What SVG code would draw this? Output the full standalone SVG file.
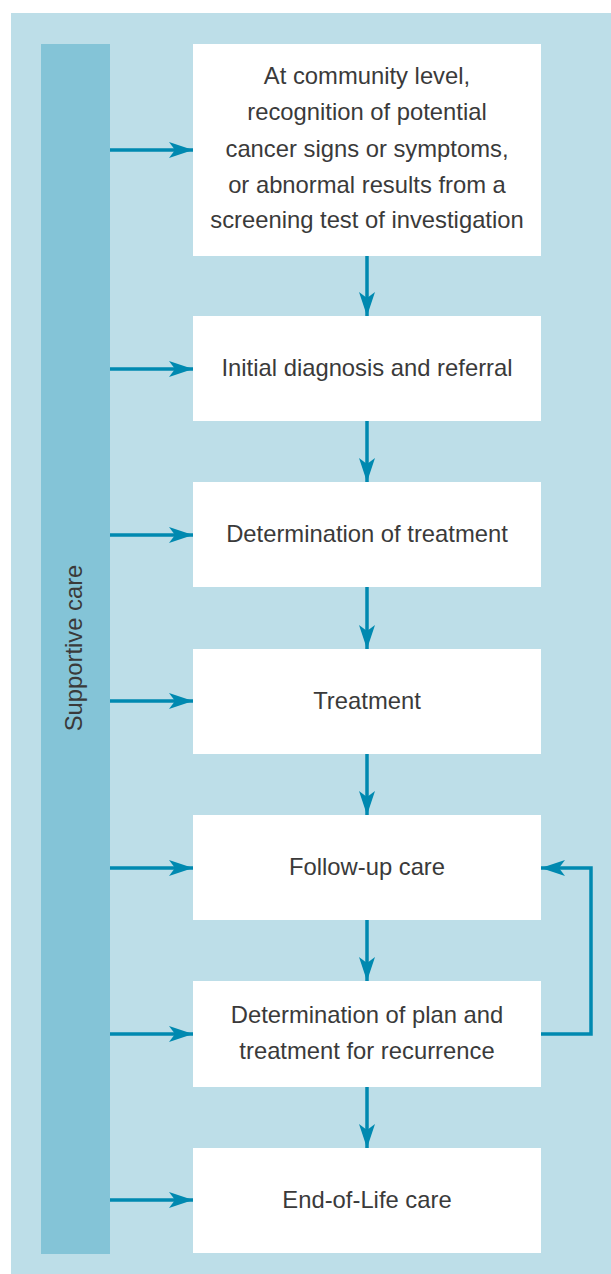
<svg xmlns="http://www.w3.org/2000/svg" width="611" height="1274" viewBox="0 0 611 1274">
<style>
.box{fill:#ffffff}
.t{font-family:"Liberation Sans",Arial,sans-serif;font-size:23.8px;fill:#3a3a3a;text-anchor:middle}
.c{stroke:#0089b0;stroke-width:3.5;fill:none}
</style>
<defs>
<marker id="ah" markerUnits="userSpaceOnUse" markerWidth="24" markerHeight="16" refX="24" refY="8" orient="auto">
<path d="M0,0 L24,8 L0,16 L6,8 Z" fill="#0089b0"/>
</marker>
</defs>
<rect x="11" y="13" width="600" height="1261" fill="#bddee8"/>
<g id="supportive">
<rect x="41" y="44" width="69" height="1210" fill="#84c4d7"/>
<text class="t" transform="translate(82,648) rotate(-90)">Supportive care</text>
</g>
<g id="n1"><rect class="box" x="193" y="44" width="348" height="212"/>
<text class="t" x="367" y="84">At community level,</text>
<text class="t" x="367" y="120">recognition of potential</text>
<text class="t" x="367" y="157">cancer signs or symptoms,</text>
<text class="t" x="367" y="193">or abnormal results from a</text>
<text class="t" x="367" y="228">screening test of investigation</text></g>
<g id="n2"><rect class="box" x="193" y="316" width="348" height="105"/><text class="t" x="367" y="376">Initial diagnosis and referral</text></g>
<g id="n3"><rect class="box" x="193" y="482" width="348" height="105"/><text class="t" x="367" y="542">Determination of treatment</text></g>
<g id="n4"><rect class="box" x="193" y="649" width="348" height="105"/><text class="t" x="367" y="709">Treatment</text></g>
<g id="n5"><rect class="box" x="193" y="815" width="348" height="105"/><text class="t" x="367" y="875">Follow-up care</text></g>
<g id="n6"><rect class="box" x="193" y="981" width="348" height="106"/>
<text class="t" x="367" y="1023">Determination of plan and</text>
<text class="t" x="367" y="1059">treatment for recurrence</text></g>
<g id="n7"><rect class="box" x="193" y="1148" width="348" height="105"/><text class="t" x="367" y="1208">End-of-Life care</text></g>
<g id="connectors">
<line class="c" x1="367" y1="256" x2="367" y2="316" marker-end="url(#ah)"/>
<line class="c" x1="367" y1="421" x2="367" y2="482" marker-end="url(#ah)"/>
<line class="c" x1="367" y1="587" x2="367" y2="649" marker-end="url(#ah)"/>
<line class="c" x1="367" y1="754" x2="367" y2="815" marker-end="url(#ah)"/>
<line class="c" x1="367" y1="920" x2="367" y2="981" marker-end="url(#ah)"/>
<line class="c" x1="367" y1="1087" x2="367" y2="1148" marker-end="url(#ah)"/>
<line class="c" x1="110" y1="150" x2="193" y2="150" marker-end="url(#ah)"/>
<line class="c" x1="110" y1="369" x2="193" y2="369" marker-end="url(#ah)"/>
<line class="c" x1="110" y1="535" x2="193" y2="535" marker-end="url(#ah)"/>
<line class="c" x1="110" y1="701" x2="193" y2="701" marker-end="url(#ah)"/>
<line class="c" x1="110" y1="868" x2="193" y2="868" marker-end="url(#ah)"/>
<line class="c" x1="110" y1="1034" x2="193" y2="1034" marker-end="url(#ah)"/>
<line class="c" x1="110" y1="1200" x2="193" y2="1200" marker-end="url(#ah)"/>
<polyline class="c" points="541,1034 591,1034 591,868 541,868" marker-end="url(#ah)"/>
</g>
</svg>
